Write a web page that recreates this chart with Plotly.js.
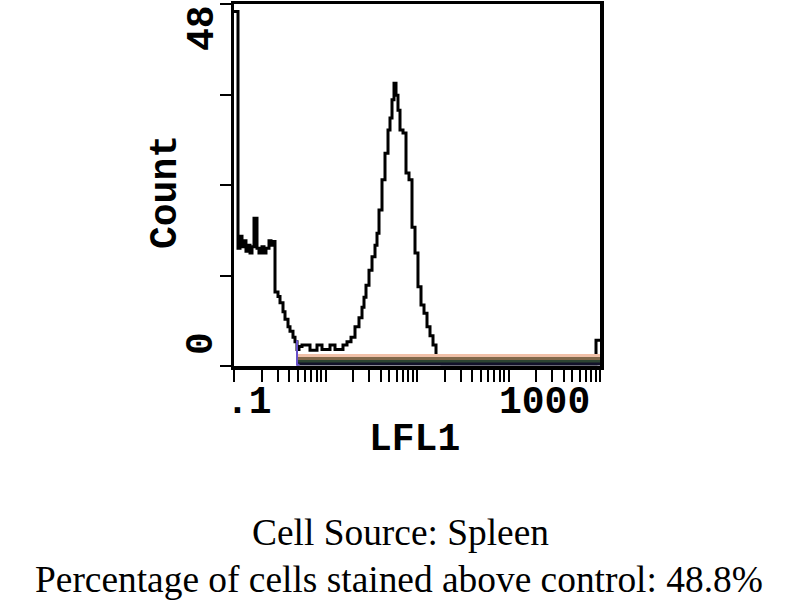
<!DOCTYPE html>
<html>
<head>
<meta charset="utf-8">
<script src="https://cdn.plot.ly/plotly-3.0.1.min.js"></script>
<style>
  html, body { margin: 0; padding: 0; background: #ffffff; }
  #chart { width: 800px; height: 600px; }
</style>
</head>
<body>
<div id="chart"></div>
<script>
// ---- data (LFL1 channel, log scale) ----
const lfl1Values = [0.1, 0.1106, 0.1163, 0.1223, 0.1286, 0.1352, 0.1422, 0.1496, 0.1573, 0.1654,
  0.1784, 0.1875, 0.2023, 0.2128, 0.2237, 0.2413, 0.2537, 0.2668, 0.2806, 0.3026,
  0.3183, 0.3432, 0.3609, 0.3892, 0.4093, 0.4413, 0.4642, 0.4882, 0.5133, 0.5536,
  0.6771, 0.8074, 0.9156, 1.120, 1.270, 1.553, 1.718, 1.900, 2.101, 2.323,
  2.506, 2.635, 2.771, 2.988, 3.223, 3.475, 3.655, 3.844, 4.145, 4.470,
  4.821, 5.069, 5.332, 5.607, 5.896, 6.198, 6.520, 7.031, 7.582, 8.176,
  8.818, 9.508, 10.25, 11.06, 11.93, 12.86, 13.87, 14.96, 16.13, 16.96,
  18.76, 904.4, 1000];
const cellCounts = [47, 15.6, 17.2, 15.8, 16.6, 15.2, 16.0, 15.0, 15.8, 19.6,
  15.6, 15.0, 15.8, 15.0, 15.6, 16.6, 16.0, 16.5, 9.8, 9.2,
  8.4, 7.2, 6.2, 5.2, 4.6, 3.8, 3.2, 2.2, 2.6, 2.8,
  2.1, 2.8, 2.2, 2.8, 2.2, 2.8, 3.2, 3.8, 5.2, 6.4,
  7.8, 9.1, 10.7, 12.7, 14.5, 16.0, 17.6, 20.7, 24.7, 28.2,
  31.3, 32.9, 35.3, 37.5, 35.9, 33.9, 31.3, 30.9, 25.6, 24.7,
  18.4, 15.0, 10.5, 8.1, 7.0, 5.2, 4.0, 2.8, 1.3, 0.6,
  0.3, 3.4, 3.4];

// control overlays (near-zero histograms)
const controlX = [0.4882, 904.4, 1000];
const controlPink = [1.4, 1.4, 1.4];
const controlOlive = [1.0, 1.0, 1.0];
const controlGreen = [0.6, 0.6, 0.6];
const controlNavy = [0.25, 0.25, 0.25];
const controlPurpleX = [0.4882, 0.4882, 0.52];
const controlPurpleY = [3.4, 0.15, 0.15];

// axes
const xTickVals = [0.1, 0.2, 0.3, 0.4, 0.5, 0.6, 0.7, 0.8, 0.9,
  1, 2, 3, 4, 5, 6, 7, 8, 9,
  10, 20, 30, 40, 50, 60, 70, 80, 90,
  100, 200, 300, 400, 500, 600, 700, 800, 900, 1000];
const yTickVals = [0, 12, 24, 36, 48];
const xTickLabels = ['.1', '1000'];
const yTickLabels = ['0', '48'];
const xAxisTitle = 'LFL1';
const yAxisTitle = 'Count';
const captionLines = ['Cell Source: Spleen', 'Percentage of cells stained above control: 48.8%'];

const monoFont = {family: 'Liberation Mono, DejaVu Sans Mono, monospace', size: 38, color: '#000000', weight: 'bold'};
const serifFont = {family: 'Liberation Serif, Times New Roman, serif', size: 37.4, color: '#000000'};

function ctrl(y, color) {
  return {x: controlX, y: y, type: 'scatter', mode: 'lines', line: {color: color, width: 3, shape: 'hv'}, hoverinfo: 'skip'};
}

const traces = [
  {x: lfl1Values, y: cellCounts, type: 'scatter', mode: 'lines',
   line: {color: '#000000', width: 3, shape: 'hv'}, hoverinfo: 'skip'},
  ctrl(controlPink, '#f0c0a8'),
  ctrl(controlOlive, '#80684a'),
  ctrl(controlGreen, '#2c4432'),
  ctrl(controlNavy, '#12122a'),
  {x: controlPurpleX, y: controlPurpleY, type: 'scatter', mode: 'lines',
   line: {color: '#6650c8', width: 2}, hoverinfo: 'skip'}
];

const annotations = [
  {text: xTickLabels[0], xref: 'paper', yref: 'paper', x: 0.041, y: -0.102, xanchor: 'center', yanchor: 'middle', showarrow: false, font: monoFont},
  {text: xTickLabels[1], xref: 'paper', yref: 'paper', x: 0.8497, y: -0.102, xanchor: 'center', yanchor: 'middle', showarrow: false, font: monoFont},
  {text: xAxisTitle, xref: 'paper', yref: 'paper', x: 0.4945, y: -0.2044, xanchor: 'center', yanchor: 'middle', showarrow: false, font: monoFont},
  {text: yTickLabels[1], xref: 'paper', yref: 'paper', x: -0.0874, y: 0.9337, xanchor: 'center', yanchor: 'middle', textangle: -90, showarrow: false, font: monoFont},
  {text: yTickLabels[0], xref: 'paper', yref: 'paper', x: -0.0874, y: 0.0608, xanchor: 'center', yanchor: 'middle', textangle: -90, showarrow: false, font: monoFont},
  {text: yAxisTitle, xref: 'paper', yref: 'paper', x: -0.1858, y: 0.4807, xanchor: 'center', yanchor: 'middle', textangle: -90, showarrow: false, font: monoFont},
  {text: captionLines[0], xref: 'paper', yref: 'paper', x: 0.4536, y: -0.4613, xanchor: 'center', yanchor: 'middle', showarrow: false, font: serifFont},
  {text: captionLines[1], xref: 'paper', yref: 'paper', x: 0.4508, y: -0.5884, xanchor: 'center', yanchor: 'middle', showarrow: false, font: serifFont}
];

const layout = {
  width: 800, height: 600,
  margin: {l: 234, r: 200, t: 4, b: 234, pad: 0},
  paper_bgcolor: '#ffffff', plot_bgcolor: '#ffffff',
  showlegend: false,
  xaxis: {type: 'log', range: [-1, 3], showgrid: false, zeroline: false,
    showline: true, linecolor: '#000000', linewidth: 3.5, mirror: true,
    ticks: 'outside', ticklen: 12, tickwidth: 2, tickcolor: '#000000',
    tickmode: 'array', tickvals: xTickVals, showticklabels: false, fixedrange: true},
  yaxis: {range: [0, 48], showgrid: false, zeroline: false,
    showline: true, linecolor: '#000000', linewidth: 3.5, mirror: true,
    ticks: 'outside', ticklen: 11, tickwidth: 2, tickcolor: '#000000',
    tickmode: 'array', tickvals: yTickVals, showticklabels: false, fixedrange: true},
  annotations: annotations
};

Plotly.newPlot('chart', traces, layout, {displayModeBar: false, staticPlot: true});
</script>
</body>
</html>
